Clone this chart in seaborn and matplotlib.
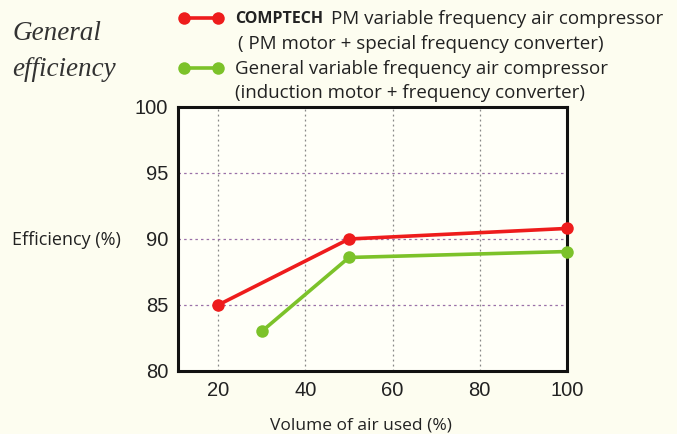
import matplotlib
matplotlib.use("Agg")
import matplotlib.pyplot as plt
import seaborn as sns
import pandas as pd
from matplotlib.lines import Line2D

# Data
comptech_x = [20, 50, 100]
comptech_y = [85.0, 90.0, 90.8]
general_x = [30, 50, 100]
general_y = [83.0, 88.6, 89.05]
series_names = ["COMPTECH", "General"]
x_ticks = [20, 40, 60, 80, 100]
y_ticks = [80, 85, 90, 95, 100]

df = pd.concat([
    pd.DataFrame({"x": comptech_x, "y": comptech_y, "s": series_names[0]}),
    pd.DataFrame({"x": general_x, "y": general_y, "s": series_names[1]}),
])

sns.set_style("white")
plt.rcParams["font.family"] = ["Liberation Sans", "DejaVu Sans"]

bg = "#fdfdf0"
red = "#ee1c1c"
green = "#7cc22a"

fig = plt.figure(figsize=(6.77, 4.34), dpi=100, facecolor=bg)
ax = fig.add_axes([178 / 677, 1 - 371 / 434, (567 - 178) / 677, (371 - 107) / 434])
ax.set_facecolor("#fffff8")

sns.lineplot(data=df, x="x", y="y", hue="s", palette={series_names[0]: red, series_names[1]: green},
             marker="o", markersize=9, markeredgewidth=0, linewidth=2.6, ax=ax, legend=False)
for ln in ax.lines:
    ln.set_clip_on(False)
    ln.set_zorder(5)

ax.set_xlim(10.8, 100)
ax.set_ylim(80, 100)
ax.set_xticks(x_ticks)
ax.set_yticks(y_ticks)
ax.tick_params(axis="both", labelsize=14.5, length=0, pad=7, colors="#222222")
ax.xaxis.grid(True, linestyle=(0, (1.5, 2.5)), color="#888888", linewidth=0.9)
ax.yaxis.grid(True, linestyle=(0, (2, 2.5)), color="#9a70a8", linewidth=0.9)
ax.set_axisbelow(True)
for sp in ax.spines.values():
    sp.set_color("#111111")
    sp.set_linewidth(2.2)
ax.set_xlabel("Volume of air used (%)", fontsize=12.5, family=["Open Sans", "DejaVu Sans"],
              color="#222222", labelpad=13)
ax.xaxis.label.set_x((361 - 178) / 389)
ax.set_ylabel("")

fig.text(12 / 677, 1 - 240 / 434, "Efficiency (%)", fontsize=13, family=["Open Sans", "DejaVu Sans"],
         color="#222222", va="center", ha="left")

# Title
fig.text(12 / 677, 1 - 34 / 434, "General", fontsize=19.5, style="italic",
         family=["Liberation Serif", "DejaVu Serif"], color="#333333", va="center")
fig.text(12 / 677, 1 - 70 / 434, "efficiency", fontsize=19.5, style="italic",
         family=["Liberation Serif", "DejaVu Serif"], color="#333333", va="center")

# Legend
for yy, col in [(18, red), (68, green)]:
    fig.add_artist(Line2D([184 / 677, 218 / 677], [1 - yy / 434] * 2, color=col, lw=2.6,
                          marker="o", markersize=9, markeredgewidth=0, transform=fig.transFigure))
lf = ["Open Sans", "DejaVu Sans"]
fig.text(235 / 677, 1 - 19 / 434, "COMPTECH", fontsize=11.5, weight="bold", family=lf,
         color="#222222", va="center")
fig.text(331 / 677, 1 - 19 / 434, "PM variable frequency air compressor", fontsize=13.5, family=lf,
         color="#222222", va="center")
fig.text(238 / 677, 1 - 44 / 434, "( PM motor + special frequency converter)", fontsize=13.5, family=lf,
         color="#222222", va="center")
fig.text(235 / 677, 1 - 69 / 434, "General variable frequency air compressor", fontsize=13.5, family=lf,
         color="#222222", va="center")
fig.text(235 / 677, 1 - 93 / 434, "(induction motor + frequency converter)", fontsize=13.5, family=lf,
         color="#222222", va="center")

fig.savefig("out.png", dpi=100, facecolor=bg)
